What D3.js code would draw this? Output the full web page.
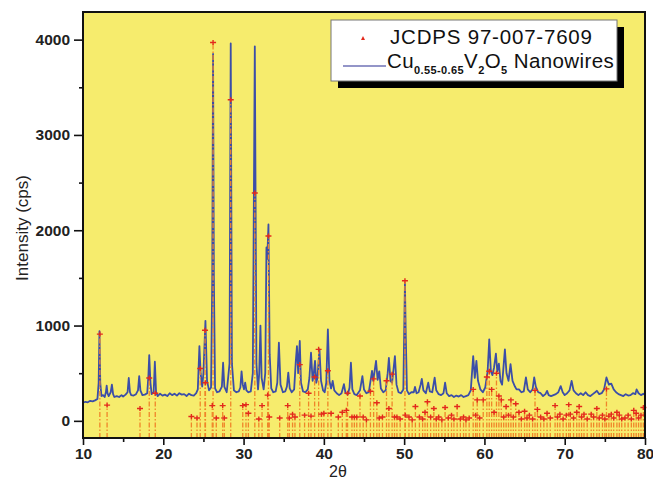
<!DOCTYPE html>
<html>
<head>
<meta charset="utf-8">
<script src="https://cdn.jsdelivr.net/npm/d3@7"></script>
<style>
  body { margin: 0; background: #fff; }
  text { font-family: "Liberation Sans", Arial, sans-serif; }
</style>
</head>
<body>
<div id="chart"></div>
<script>
// measured pattern, [2theta, intensity]
const scanData = [
  [10.0,190],[10.3,200],[10.6,195],[10.9,210],[11.2,205],[11.5,215],[11.8,230],[11.95,400],[12.05,940],[12.15,400],
  [12.3,260],[12.5,270],[12.7,250],[12.85,300],[12.95,370],[13.05,290],[13.2,260],[13.45,300],[13.6,380],[13.75,280],
  [13.9,250],[14.2,260],[14.5,250],[14.8,270],[15.0,255],[15.3,275],[15.55,300],[15.7,450],[15.85,300],[16.0,270],
  [16.3,265],[16.6,280],[16.85,320],[17.0,470],[17.15,320],[17.4,270],[17.7,275],[18.0,290],[18.15,480],[18.25,690],
  [18.4,400],[18.55,280],[18.8,300],[18.95,620],[19.1,300],[19.3,260],[19.6,285],[19.9,265],[20.2,275],[20.5,260],
  [20.8,290],[21.1,270],[21.4,285],[21.7,265],[22.0,290],[22.3,275],[22.6,280],[22.9,260],[23.2,285],[23.5,270],
  [23.8,265],[24.1,290],[24.3,330],[24.5,785],[24.65,500],[24.85,360],[25.0,500],[25.25,1050],[25.45,420],[25.7,320],
  [25.95,350],[26.1,1500],[26.2,3850],[26.3,1500],[26.45,340],[26.7,300],[27.0,310],[27.3,360],[27.45,610],[27.6,360],
  [27.9,300],[28.25,600],[28.4,3960],[28.55,600],[28.8,320],[29.1,300],[29.4,310],[29.6,350],[29.75,520],[29.9,380],
  [30.05,330],[30.2,400],[30.35,320],[30.6,300],[30.9,310],[31.15,500],[31.4,3930],[31.6,600],[31.8,330],[31.95,500],
  [32.1,1000],[32.25,450],[32.5,330],[32.7,500],[32.85,1820],[32.95,1700],[33.1,2060],[33.25,700],[33.45,340],[33.7,300],
  [34.0,310],[34.2,400],[34.4,820],[34.6,380],[34.9,300],[35.2,310],[35.4,360],[35.57,506],[35.75,340],[36.0,300],
  [36.3,330],[36.5,620],[36.65,785],[36.8,500],[37.0,838],[37.15,400],[37.4,310],[37.7,300],[38.0,330],[38.2,450],
  [38.4,715],[38.6,420],[38.75,500],[38.9,630],[39.05,400],[39.2,450],[39.45,750],[39.65,420],[39.9,320],[40.1,300],
  [40.3,400],[40.5,960],[40.7,420],[40.9,340],[41.1,420],[41.3,320],[41.6,290],[41.9,270],[42.2,290],[42.5,385],
  [42.7,290],[43.0,280],[43.2,350],[43.37,610],[43.55,330],[43.8,280],[44.1,270],[44.5,320],[44.8,470],[45.0,330],
  [45.3,290],[45.6,300],[45.85,440],[46.0,524],[46.15,420],[46.5,628],[46.7,430],[46.9,520],[47.1,340],[47.4,300],
  [47.7,320],[47.95,500],[48.1,660],[48.3,420],[48.5,400],[48.85,680],[49.05,380],[49.3,300],[49.6,290],[49.9,330],
  [50.0,900],[50.1,1440],[50.2,900],[50.35,320],[50.6,280],[50.9,300],[51.2,300],[51.35,356],[51.55,290],[51.8,300],
  [52.05,380],[52.2,440],[52.4,320],[52.7,290],[53.0,400],[53.2,310],[53.5,300],[53.8,454],[54.0,320],[54.3,280],
  [54.6,270],[54.9,290],[55.1,400],[55.3,290],[55.6,260],[55.9,270],[56.2,250],[56.5,265],[56.8,255],[57.1,270],
  [57.4,250],[57.7,260],[58.0,270],[58.3,320],[58.6,680],[58.8,450],[59.0,630],[59.2,420],[59.5,330],[59.8,300],
  [60.1,350],[60.4,520],[60.6,855],[60.8,520],[61.0,480],[61.2,560],[61.43,705],[61.6,520],[61.8,600],[62.0,420],
  [62.2,380],[62.55,750],[62.75,500],[63.0,420],[63.25,595],[63.5,420],[63.8,360],[64.0,330],[64.3,330],[64.6,300],
  [64.9,310],[65.17,455],[65.4,330],[65.7,300],[66.0,330],[66.2,455],[66.4,360],[66.7,300],[67.0,290],[67.3,260],
  [67.6,280],[67.8,315],[68.0,270],[68.3,260],[68.6,270],[68.9,280],[69.2,300],[69.5,365],[69.75,300],[70.0,270],
  [70.3,290],[70.6,320],[70.86,420],[71.1,320],[71.4,290],[71.7,270],[72.0,290],[72.3,270],[72.6,300],[72.9,270],
  [73.2,260],[73.5,280],[73.8,300],[74.0,315],[74.3,280],[74.6,290],[74.9,330],[75.2,455],[75.5,380],[75.8,390],
  [76.1,330],[76.4,300],[76.7,280],[77.0,270],[77.3,260],[77.6,280],[77.9,265],[78.2,270],[78.5,290],[78.8,280],
  [78.95,330],[79.2,290],[79.5,270],[79.8,285],[80.0,270]
];

// reference card lines, [2theta, intensity]
const refPeaks = [
  [12.1,910],[13.0,165],[17.1,130],[18.25,450],[19.0,290],[23.5,45],[24.2,30],[24.6,550],[25.2,950],[25.25,400],
  [26.1,160],[26.2,3970],[26.6,30],[27.4,160],[27.6,30],[28.4,3370],[29.9,160],[30.3,170],[30.6,80],[31.4,2390],
  [31.9,20],[32.3,160],[33.0,270],[33.1,1940],[33.2,40],[34.5,30],[35.5,160],[35.7,30],[36.1,70],[36.4,40],
  [37.0,590],[37.6,60],[38.1,290],[38.4,50],[38.85,460],[39.35,750],[39.7,70],[40.0,80],[40.5,525],[40.9,80],
  [41.8,40],[42.3,90],[42.8,110],[42.95,290],[43.5,40],[43.8,40],[44.1,40],[44.5,260],[44.9,40],[45.3,10],
  [45.8,310],[46.2,440],[46.6,190],[46.9,30],[47.3,40],[47.8,420],[48.1,130],[48.5,490],[48.8,40],[49.1,40],
  [49.5,20],[50.1,1470],[50.15,60],[50.6,40],[51.0,10],[51.4,150],[51.9,40],[52.3,20],[52.6,90],[52.9,200],
  [53.3,40],[53.7,130],[54.0,20],[54.3,40],[54.7,10],[55.1,140],[55.5,30],[55.9,60],[56.2,20],[56.6,150],
  [57.0,20],[57.4,40],[57.7,10],[58.1,30],[58.6,330],[58.9,60],[59.1,220],[59.4,30],[59.85,220],[60.3,460],
  [60.6,520],[60.9,330],[61.2,90],[61.5,500],[61.8,260],[62.1,220],[62.4,40],[62.7,150],[63.0,60],[63.3,220],
  [63.6,40],[63.9,180],[64.3,90],[64.6,20],[65.0,100],[65.3,30],[65.6,60],[66.0,20],[66.3,320],[66.6,120],
  [67.0,40],[67.4,20],[67.8,80],[68.2,30],[68.8,160],[69.1,40],[69.4,70],[69.8,20],[70.2,60],[70.5,170],
  [70.7,70],[71.1,30],[71.5,90],[71.8,150],[72.1,40],[72.4,70],[72.8,20],[73.3,70],[73.6,40],[74.0,130],
  [74.3,30],[74.7,60],[75.0,20],[75.2,335],[75.5,50],[75.8,70],[76.1,30],[76.5,90],[76.8,60],[77.1,20],
  [77.5,30],[77.9,60],[78.3,20],[78.6,110],[78.9,80],[79.2,30],[79.5,60],[79.8,140]
];

const xTicks = [10, 20, 30, 40, 50, 60, 70, 80];
const xMinor = [15, 25, 35, 45, 55, 65, 75];
const yTicks = [0, 1000, 2000, 3000, 4000];
const yMinor = [500, 1500, 2500, 3500];

// plot box
const width = 653, height = 481;
const box = {left: 83, right: 645, top: 12, bottom: 438};

const svg = d3.select("#chart").append("svg")
  .attr("width", width)
  .attr("height", height);

const x = d3.scaleLinear().domain([10, 80]).range([box.left, box.right]);
const y = d3.scaleLinear().domain([-180, 4290]).range([box.bottom, box.top]);

svg.append("rect")
  .attr("x", box.left).attr("y", box.top)
  .attr("width", box.right - box.left).attr("height", box.bottom - box.top)
  .attr("fill", "#f6ec6d");

const plot = svg.append("g");

// measured curve
plot.append("path")
  .datum(scanData)
  .attr("d", d3.line().x(d => x(d[0])).y(d => y(d[1])))
  .attr("fill", "none")
  .attr("stroke", "#3b4ea8")
  .attr("stroke-width", 1.8)
  .attr("stroke-linejoin", "round");

// reference drop lines, drawn over the curve
plot.selectAll(".drop")
  .data(refPeaks)
  .join("line")
  .attr("x1", d => x(d[0])).attr("x2", d => x(d[0]))
  .attr("y1", box.bottom).attr("y2", d => y(d[1]))
  .attr("stroke", "#f0852a")
  .attr("stroke-width", 1.3)
  .attr("stroke-dasharray", "5,2,1.5,2");

// small red "+" markers at the top of each line
plot.selectAll(".mark")
  .data(refPeaks)
  .join("path")
  .attr("d", d => {
    const px = x(d[0]), py = y(d[1]);
    return `M${px - 3},${py}H${px + 3}M${px},${py - 2.5}V${py + 2.5}`;
  })
  .attr("stroke", "#e3291c")
  .attr("stroke-width", 1.4)
  .attr("fill", "none");

// axes
svg.append("g")
  .attr("transform", `translate(0,${box.bottom})`)
  .call(d3.axisBottom(x).tickValues(xTicks).tickSize(7).tickPadding(3).tickFormat(d3.format("d")));
svg.append("g")
  .attr("transform", `translate(0,${box.bottom})`)
  .call(d3.axisBottom(x).tickValues(xMinor).tickSize(4).tickFormat(""));

svg.append("g")
  .attr("transform", `translate(${box.left},0)`)
  .call(d3.axisLeft(y).tickValues(yTicks).tickSize(9).tickPadding(4).tickFormat(d3.format("d")));
svg.append("g")
  .attr("transform", `translate(${box.left},0)`)
  .call(d3.axisLeft(y).tickValues(yMinor).tickSize(4).tickFormat(""));

svg.selectAll(".domain").remove();
svg.selectAll(".tick line").attr("stroke", "#111").attr("stroke-width", 1.6);
svg.selectAll(".tick text")
  .attr("fill", "#222")
  .style("font-size", "15.5px")
  .style("font-weight", "bold");

// frame
svg.append("rect")
  .attr("x", box.left).attr("y", box.top)
  .attr("width", box.right - box.left).attr("height", box.bottom - box.top)
  .attr("fill", "none")
  .attr("stroke", "#111")
  .attr("stroke-width", 2);

// axis titles
svg.append("text")
  .attr("transform", `translate(28,228) rotate(-90)`)
  .attr("text-anchor", "middle")
  .style("font-size", "17px")
  .attr("fill", "#222")
  .text("Intensity (cps)");

svg.append("text")
  .attr("x", 338).attr("y", 477)
  .attr("text-anchor", "middle")
  .style("font-size", "16px")
  .attr("fill", "#222")
  .text("2θ");

// legend
const lg = svg.append("g");
lg.append("rect")
  .attr("x", 338).attr("y", 27).attr("width", 286).attr("height", 61)
  .attr("fill", "#000");
lg.append("rect")
  .attr("x", 331).attr("y", 20).attr("width", 286).attr("height", 61)
  .attr("fill", "#fff").attr("stroke", "#777").attr("stroke-width", 1);

lg.append("path")
  .attr("d", "M361,40L363,36L365,40Z")
  .attr("fill", "#e3291c");
lg.append("text")
  .attr("x", 390).attr("y", 44)
  .style("font-size", "20.5px")
  .style("letter-spacing", "0.8px")
  .attr("fill", "#111")
  .text("JCDPS 97-007-7609");

lg.append("line")
  .attr("x1", 343).attr("x2", 386).attr("y1", 66).attr("y2", 66)
  .attr("stroke", "#6f72b6").attr("stroke-width", 1.6);
const t2 = lg.append("text")
  .attr("x", 387).attr("y", 68)
  .style("font-size", "20.5px")
  .style("letter-spacing", "0.4px")
  .attr("fill", "#111");
t2.append("tspan").text("Cu");
t2.append("tspan").attr("dy", 6).style("font-size", "11px").style("font-weight", "bold").text("0.55-0.65");
t2.append("tspan").attr("dy", -6).text("V");
t2.append("tspan").attr("dy", 6).style("font-size", "11px").style("font-weight", "bold").text("2");
t2.append("tspan").attr("dy", -6).text("O");
t2.append("tspan").attr("dy", 6).style("font-size", "11px").style("font-weight", "bold").text("5");
t2.append("tspan").attr("dy", -6).text(" Nanowires");
</script>
</body>
</html>
